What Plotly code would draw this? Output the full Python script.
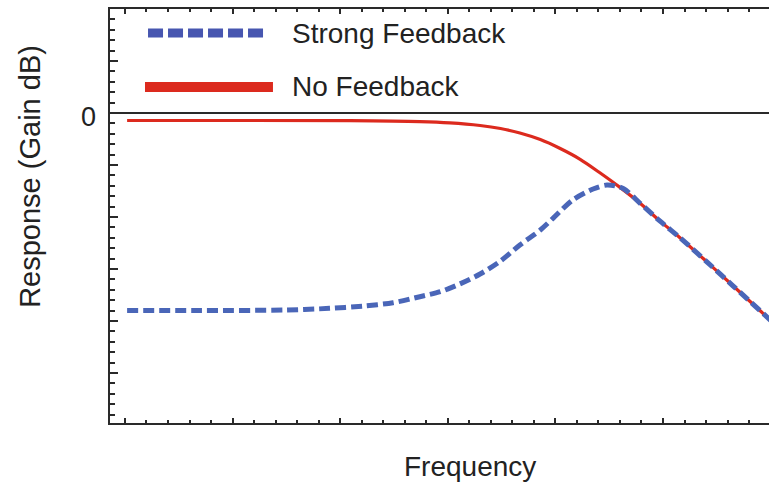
import plotly.graph_objects as go

# Frequency response of an amplifier stage, with and without feedback
freq_no_fb = [0.02, 1.16, 2.09, 2.74, 3.02, 3.30, 3.49, 3.67, 3.86, 4.04, 4.23,
              4.41, 4.60, 4.79, 4.97, 5.16, 5.41, 5.65, 6.0]
gain_no_fb = [-0.72, -0.72, -0.74, -0.83, -0.95, -1.20, -1.49, -1.92, -2.55,
              -3.39, -4.45, -5.72, -7.15, -8.70, -10.37, -12.01, -14.33, -16.61,
              -19.93]

freq_strong_fb = [0.02, 0.7, 1.5, 1.9, 2.21, 2.49, 2.74, 2.93, 3.11, 3.30, 3.49,
                  3.67, 3.86, 3.98, 4.16, 4.35, 4.48, 4.63, 4.79, 4.97, 5.16,
                  5.41, 5.65, 6.0]
gain_strong_fb = [-18.99, -18.99, -18.94, -18.78, -18.56, -18.24, -17.66, -17.18,
                  -16.44, -15.48, -14.23, -12.69, -11.25, -10.10, -8.37, -7.31,
                  -6.92, -7.26, -8.70, -10.37, -12.01, -14.33, -16.61, -19.93]

series_names = ["Strong Feedback", "No Feedback"]
y_tick_vals = [-25, -20, -15, -10, -5, 0, 5, 10]
y_label_value = 0

RED = "#DC2A1E"
BLUE = "#4A66B8"
BLUE_KEY = "#4756B0"
AXIS = "#2a2a2a"
FONT = "Liberation Sans, Arial, sans-serif"

fig = go.Figure()
fig.add_trace(go.Scatter(
    x=freq_no_fb, y=gain_no_fb, mode="lines", name=series_names[1],
    line=dict(color=RED, width=3.2, shape="spline", smoothing=1.0),
    showlegend=False, hoverinfo="skip"))
fig.add_trace(go.Scatter(
    x=freq_strong_fb, y=gain_strong_fb, mode="lines", name=series_names[0],
    line=dict(color=BLUE, width=5, dash="11px,5px", shape="spline", smoothing=0.8),
    showlegend=False, hoverinfo="skip"))

# hand-drawn key in the upper-left corner of the plot
key_rows = [
    dict(name=series_names[0], y=0.942, color=BLUE_KEY, width=9, dash="15px,5px",
         x0=0.0577, x1=0.2398),
    dict(name=series_names[1], y=0.8116, color=RED, width=10, dash="solid",
         x0=0.0531, x1=0.2473),
]
for row in key_rows:
    fig.add_shape(type="line", xref="paper", yref="paper",
                  x0=row["x0"], x1=row["x1"], y0=row["y"], y1=row["y"],
                  line=dict(color=row["color"], width=row["width"], dash=row["dash"]))
    fig.add_annotation(xref="paper", yref="paper", x=0.2731, y=row["y"],
                       text=row["name"], showarrow=False, xanchor="left",
                       yanchor="middle", font=dict(family=FONT, size=28, color="#222"))

# the single labelled gain level, sitting just left of the axis
fig.add_annotation(xref="paper", yref="y", x=0, y=y_label_value,
                   text=str(y_label_value), showarrow=False, xanchor="right",
                   yanchor="middle", xshift=-12, yshift=-4,
                   font=dict(family=FONT, size=27, color="#222"))

# axis titles
fig.add_annotation(xref="paper", yref="paper", x=0.5456, y=-0.106, text="Frequency",
                   showarrow=False, xanchor="center", yanchor="middle",
                   font=dict(family=FONT, size=28, color="#222"))
fig.add_annotation(xref="paper", yref="paper", x=-0.1214, y=0.597,
                   text="Response (Gain dB)", textangle=-90, showarrow=False,
                   xanchor="center", yanchor="middle",
                   font=dict(family=FONT, size=29, color="#222"))

fig.update_layout(
    width=769, height=483,
    margin=dict(l=110, r=0, t=9, b=60),
    paper_bgcolor="white", plot_bgcolor="white",
    showlegend=False,
    font=dict(family=FONT, color="#222"),
)
fig.update_xaxes(
    range=[-0.139, 5.985], showgrid=False, zeroline=False,
    showline=True, linecolor=AXIS, linewidth=2, mirror="ticks",
    ticks="inside", ticklen=5, tickwidth=1.5, tickcolor=AXIS,
    tickmode="linear", tick0=0, dtick=1, showticklabels=False,
    minor=dict(ticks="inside", ticklen=3, tickwidth=1.5, tickcolor=AXIS,
               tickmode="linear", tick0=0, dtick=0.2, showgrid=False),
)
fig.update_yaxes(
    range=[-29.8, 10.0], showgrid=False,
    zeroline=True, zerolinecolor=AXIS, zerolinewidth=1.6,
    showline=True, linecolor=AXIS, linewidth=2, mirror=False,
    ticks="inside", ticklen=8, tickwidth=1.5, tickcolor=AXIS,
    tickmode="array", tickvals=y_tick_vals, showticklabels=False,
    minor=dict(ticks="inside", ticklen=5, tickwidth=1.5, tickcolor=AXIS,
               tickmode="linear", tick0=0, dtick=1, showgrid=False),
)

fig.write_html("out.html")
